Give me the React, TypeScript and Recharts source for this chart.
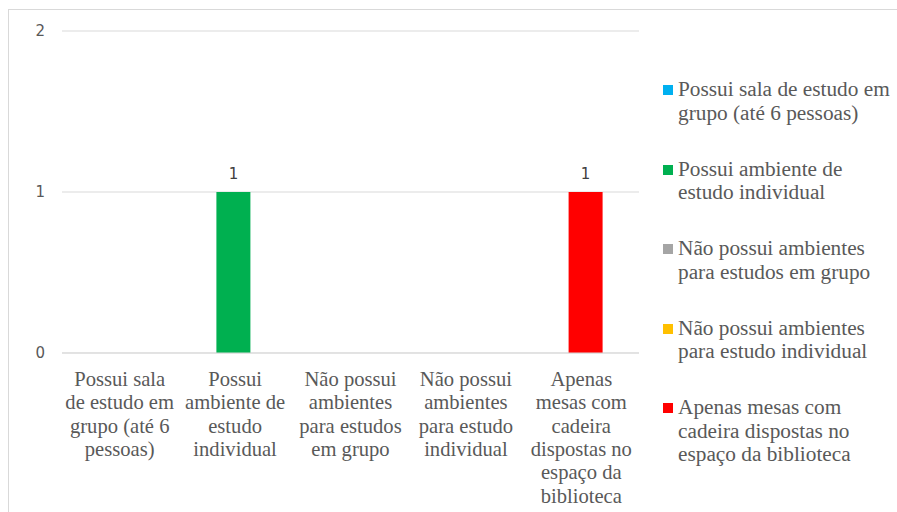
import { BarChart, Bar, XAxis, YAxis, CartesianGrid, Legend, LabelList } from "recharts"

// categories (full names) and how they break on the axis
const categories = [
  "Possui sala de estudo em grupo (até 6 pessoas)",
  "Possui ambiente de estudo individual",
  "Não possui ambientes para estudos em grupo",
  "Não possui ambientes para estudo individual",
  "Apenas mesas com cadeira dispostas no espaço da biblioteca",
]

const categoryLines = [
  ["Possui sala", "de estudo em", "grupo (até 6", "pessoas)"],
  ["Possui", "ambiente de", "estudo", "individual"],
  ["Não possui", "ambientes", "para estudos", "em grupo"],
  ["Não possui", "ambientes", "para estudo", "individual"],
  ["Apenas", "mesas com", "cadeira", "dispostas no", "espaço da", "biblioteca"],
]

// one series per category, empty where the sheet had no value
const salaGrupo = [null, null, null, null, null]
const ambienteIndividual = [null, 1, null, null, null]
const semGrupo = [null, null, null, null, null]
const semIndividual = [null, null, null, null, null]
const apenasMesas = [null, null, null, null, 1]

const yTicks = [0, 1, 2]

const SERIES = [
  { key: "s1", values: salaGrupo, color: "#00B0F0" },
  { key: "s2", values: ambienteIndividual, color: "#00B050" },
  { key: "s3", values: semGrupo, color: "#A5A5A5" },
  { key: "s4", values: semIndividual, color: "#FFC000" },
  { key: "s5", values: apenasMesas, color: "#FF0000" },
]

const data = categories.map((name, i) => {
  const row: Record<string, string | number | null> = { name }
  SERIES.forEach((s) => {
    row[s.key] = s.values[i]
  })
  return row
})

const SERIF = "'Liberation Serif', 'Times New Roman', serif"
const SANS = "'DejaVu Sans', sans-serif"

function CategoryTick(props: any) {
  const { x, y, payload } = props
  const lines = categoryLines[payload.index] || [payload.value]
  return (
    <text x={x} y={y} textAnchor="middle" fill="#595959" fontFamily={SERIF} fontSize={20.6}>
      {lines.map((line, i) => (
        <tspan key={i} x={x} dy={i === 0 ? 33 : 23.3}>
          {line}
        </tspan>
      ))}
    </text>
  )
}

function LegendList(props: any) {
  // keep series order, recharts sorts the payload by name
  const items = [...(props.payload || [])].sort(
    (a: any, b: any) => categories.indexOf(a.value) - categories.indexOf(b.value)
  )
  return (
    <div style={{ fontFamily: SERIF, fontSize: 21.3, lineHeight: "23.5px", color: "#595959" }}>
      {items.map((entry: any) => (
        <div key={entry.value} style={{ position: "relative", paddingLeft: 15, width: 212, marginBottom: 32.5 }}>
          <span
            style={{
              position: "absolute",
              left: 0,
              top: 7,
              width: 10,
              height: 10,
              background: entry.color,
            }}
          />
          {entry.value}
        </div>
      ))}
    </div>
  )
}

export default function App() {
  return (
    <div
      style={{
        position: "fixed",
        left: 8,
        top: 9,
        width: 889,
        height: 503,
        boxSizing: "border-box",
        borderTop: "1px solid #d9d9d9",
        borderLeft: "1px solid #d9d9d9",
        background: "#fff",
      }}
    >
      <BarChart
        width={888}
        height={502}
        data={data}
        margin={{ top: 21, right: 258, bottom: 0, left: 0 }}
        barSize={34}
        barGap={-32}
      >
        <CartesianGrid vertical={false} stroke="#d9d9d9" />
        <XAxis
          dataKey="name"
          interval={0}
          tickLine={false}
          tickSize={0}
          tickMargin={0}
          height={159}
          axisLine={{ stroke: "#d9d9d9" }}
          tick={<CategoryTick />}
        />
        <YAxis
          width={53}
          domain={[0, 2]}
          ticks={yTicks}
          axisLine={false}
          tickLine={false}
          tickSize={0}
          tickMargin={17}
          tick={{ fill: "#595959", fontSize: 15, fontFamily: SANS }}
        />
        <Legend
          layout="vertical"
          align="center"
          verticalAlign="middle"
          content={<LegendList />}
          wrapperStyle={{ position: "absolute", left: 654, top: 68, width: 236, height: "auto" }}
        />
        {SERIES.map((s, i) => (
          <Bar key={s.key} dataKey={s.key} name={categories[i]} fill={s.color} isAnimationActive={false}>
            <LabelList dataKey={s.key} position="top" offset={13} fill="#404040" fontSize={15} fontFamily={SANS} />
          </Bar>
        ))}
      </BarChart>
    </div>
  )
}
